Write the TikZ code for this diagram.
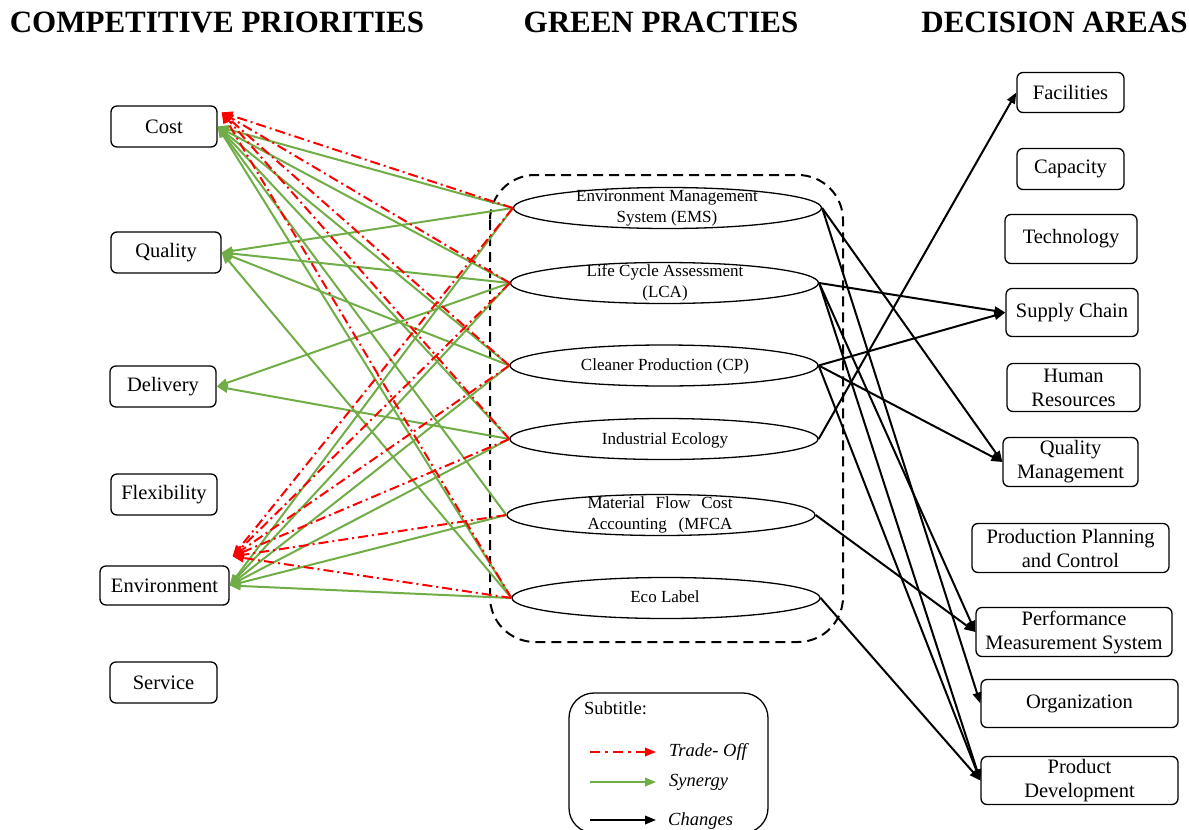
\documentclass[tikz,border=0pt]{standalone}
\usepackage{fontspec}
\setmainfont{Liberation Serif}
\usetikzlibrary{arrows.meta,shapes.geometric,calc}
\definecolor{syngreen}{RGB}{112,173,71}
\definecolor{trdred}{RGB}{255,0,0}
\begin{document}
\begin{tikzpicture}[x=1pt,y=-1pt,
  title/.style={font=\fontsize{31}{34}\selectfont\bfseries, inner sep=0pt},
  prio/.style={draw=black, line width=1.3pt, rounded corners=6pt, inner sep=0pt,
    align=center, font=\fontsize{20.5}{24}\selectfont},
  practice/.style={draw=black, line width=1.3pt, ellipse, fill=white, inner sep=0pt,
    minimum width=308pt, minimum height=41pt},
  ptext/.style={align=center, inner sep=0pt, font=\fontsize{17}{21}\selectfont},
  tip/.style={-{Triangle[length=11pt,width=8.5pt]}},
  syn/.style={draw=syngreen, line width=2pt, tip},
  trd/.style={draw=trdred, line width=2pt, dash pattern=on 10pt off 4pt on 2pt off 4pt, tip},
  chg/.style={draw=black, line width=2pt, tip},
  legtext/.style={anchor=west, inner sep=0pt, font=\fontsize{18.5}{22}\selectfont}
]
\useasboundingbox (0,0) rectangle (1189,830);

% column headings
\node[title] (hCP) at (217,22) {COMPETITIVE PRIORITIES};
\node[title] (hGP) at (661,22) {GREEN PRACTIES};
\node[title] (hDA) at (1054.5,22) {DECISION AREAS};

% competitive priorities
\node[prio, minimum width=106pt, minimum height=41pt] (cost) at (164,126.5) {Cost};
\node[prio, minimum width=110pt, minimum height=41pt] (quality) at (166,252.5) {Quality};
\node[prio, minimum width=106pt, minimum height=41pt] (delivery) at (163,386.5) {Delivery};
\node[prio, minimum width=106pt, minimum height=41pt] (flex) at (164,494.5) {Flexibility};
\node[prio, minimum width=129pt, minimum height=39pt] (env) at (164.5,585.5) {Environment};
\node[prio, minimum width=107pt, minimum height=41pt] (service) at (163.5,682.5) {Service};

% decision areas
\node[prio, minimum width=107pt, minimum height=40pt] (fac) at (1070.5,92.5) {Facilities};
\node[prio, minimum width=107pt, minimum height=41pt] (cap) at (1070.5,169) {Capacity};
\node[prio, minimum width=132pt, minimum height=49pt] (tech) at (1071,239) {Technology};
\node[prio, minimum width=132pt, minimum height=48pt] (sc) at (1072,312.5) {Supply Chain};
\node[prio, minimum width=133pt, minimum height=48pt] (hr) at (1073.5,387.5) {Human\\Resources};
\node[prio, minimum width=135pt, minimum height=49pt] (qm) at (1070.5,462) {Quality\\Management};
\node[prio, minimum width=197pt, minimum height=49pt] (ppc) at (1070.5,548) {Production Planning\\and Control};
\node[prio, minimum width=196pt, minimum height=49pt] (pms) at (1074,632) {Performance\\Measurement System};
\node[prio, minimum width=197pt, minimum height=48pt] (org) at (1079.5,703.5) {Organization};
\node[prio, minimum width=197pt, minimum height=48pt] (pd) at (1079.5,780.5) {Product\\Development};

% green practices inside the dashed frame
\draw[black, line width=2pt, dash pattern=on 10pt off 6pt, rounded corners=45pt]
  (490,175) rectangle (843,642);
\node[practice] (ems) at (667.5,208) {};
\node[practice] (lca) at (664.5,283) {};
\node[practice] (cp) at (664,365.5) {};
\node[practice] (ie) at (664,439) {};
\node[practice] (mfca) at (661,515) {};
\node[practice] (eco) at (666,598) {};
\node[ptext] (emsT) at (667,208) {Environment Management\\System (EMS)};
\node[ptext] (lcaT) at (665,283) {Life Cycle Assessment\\(LCA)};
\node[ptext] (cpT) at (665,366) {Cleaner Production (CP)};
\node[ptext] (ieT) at (665,440) {Industrial Ecology};
\node[ptext] (mfcaT) at (660,515) {\makebox[145pt][s]{Material Flow Cost}\\\makebox[145pt][s]{Accounting (MFCA}};
\node[ptext] (ecoT) at (665,597) {Eco Label};

% arrival points of the trade-off arrows
\coordinate (costR) at ($(cost.north east)+(4,7)$);
\coordinate (envR) at ($(env.north east)+(3,-9)$);

% synergies
\foreach \p in {ems,lca,cp,ie,mfca,eco} {
  \draw[syn] (\p.west) -- (cost.east);
  \draw[syn] (\p.west) -- (env.east);
}
\foreach \p in {ems,lca,cp,eco}
  \draw[syn] (\p.west) -- (quality.east);
\foreach \p in {lca,ie}
  \draw[syn] (\p.west) -- (delivery.east);

% trade-offs
\foreach \p in {ems,lca,cp,ie,eco}
  \draw[trd] (\p.west) -- (costR);
\foreach \p in {ems,lca,cp,ie,mfca,eco}
  \draw[trd] (\p.west) -- (envR);

% changes in decision areas
\draw[chg] (ems.east) -- (qm.west);
\draw[chg] (ems.east) -- (org.west);
\draw[chg] (lca.east) -- (sc.west);
\draw[chg] (lca.east) -- (pms.west);
\draw[chg] (lca.east) -- (pd.west);
\draw[chg] (cp.east) -- (sc.west);
\draw[chg] (cp.east) -- (qm.west);
\draw[chg] (cp.east) -- (pd.west);
\draw[chg] (ie.east) -- (fac.west);
\draw[chg] (mfca.east) -- (pms.west);
\draw[chg] (eco.east) -- (pd.west);

% legend
\draw[black, line width=1.3pt, rounded corners=25pt] (569,693) rectangle (768,833);
\node[legtext] (legHead) at (584,708) {Subtitle:};
\coordinate (lgTa) at (590,752); \coordinate (lgTb) at (656,752);
\coordinate (lgSa) at (590,782); \coordinate (lgSb) at (656,782);
\coordinate (lgCa) at (590,820); \coordinate (lgCb) at (656,820);
\draw[trd, dash pattern=on 10pt off 5pt on 3pt off 5pt] (lgTa) -- (lgTb);
\draw[syn] (lgSa) -- (lgSb);
\draw[chg] (lgCa) -- (lgCb);
\node[legtext] (legT) at (669,752) {\itshape Trade- Off};
\node[legtext] (legS) at (669,782) {\itshape Synergy};
\node[legtext] (legC) at (668,821) {\itshape Changes};
\end{tikzpicture}
\end{document}
